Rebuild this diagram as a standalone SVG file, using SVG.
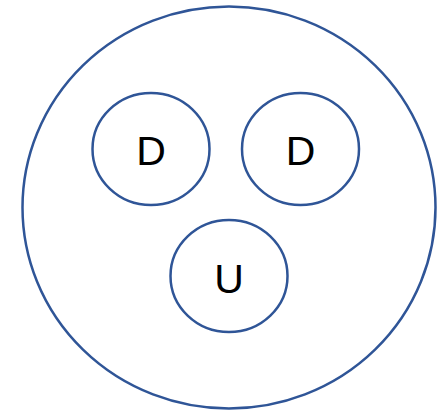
<svg xmlns="http://www.w3.org/2000/svg" width="446" height="411" viewBox="0 0 446 411">
<style>
.c{fill:#fff;stroke:#2F5597;stroke-width:2.5}
.t{font-family:"Liberation Sans",Arial,sans-serif;font-size:41px;fill:#000;text-anchor:middle}
</style>
<rect width="446" height="411" fill="#fff"/>
<g id="outer"><ellipse class="c" cx="229" cy="207.5" rx="206.5" ry="201"/></g>
<g id="d1"><ellipse class="c" cx="151" cy="149" rx="58.5" ry="56"/><text class="t" x="151" y="165">D</text></g>
<g id="d2"><ellipse class="c" cx="300.5" cy="149" rx="58.5" ry="56"/><text class="t" x="300.5" y="165">D</text></g>
<g id="u"><ellipse class="c" cx="229" cy="276" rx="58.5" ry="56"/><text class="t" x="229" y="293">U</text></g>
<g id="connectors"/>
</svg>
